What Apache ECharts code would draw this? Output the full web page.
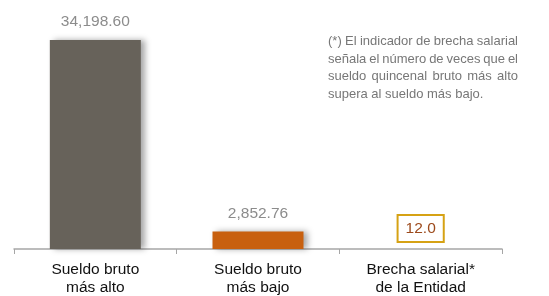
<!DOCTYPE html>
<html>
<head>
<meta charset="utf-8">
<script src="https://cdn.jsdelivr.net/npm/echarts@6/dist/echarts.min.js"></script>
<style>html,body{margin:0;padding:0;background:#fff}#c{width:549px;height:296px}</style>
</head>
<body>
<div id="c"></div>
<script>
var categories = ['Sueldo bruto\nmás alto', 'Sueldo bruto\nmás bajo', 'Brecha salarial*\nde la Entidad'];
var salaries = [34198.60, 2852.76];
var brecha = 12.0;
var noteLines = [
  '(*) El indicador de brecha salarial',
  'señala el número de veces que el',
  'sueldo quincenal bruto más alto',
  'supera al sueldo más bajo.'
];

var barColors = ['#67625a', '#c8600f'];
var font = '"Liberation Sans", Arial, sans-serif';

var data = salaries.map(function (v, i) {
  return {
    value: v,
    itemStyle: { color: barColors[i], shadowBlur: 6, shadowOffsetX: 4, shadowOffsetY: 0, shadowColor: 'rgba(0,0,0,0.35)' },
    label: {
      show: true, position: 'top', distance: 10, color: '#8c8c8c', fontSize: 15.5, fontFamily: font,
      formatter: function (p) { return p.value.toLocaleString('en-US', { minimumFractionDigits: 2, maximumFractionDigits: 2 }); }
    }
  };
});
data.push({
  value: brecha,
  itemStyle: { color: 'rgba(0,0,0,0)' },
  label: {
    show: true, position: 'top', distance: 8, color: '#9c4a1c', fontSize: 15.5, fontFamily: font,
    backgroundColor: '#fff', borderColor: '#d6a214', borderWidth: 2, padding: [5, 7, 4, 7],
    formatter: function (p) { return p.value.toFixed(1); }
  }
});

// justified note text (last line left-aligned)
var noteFont = '13px ' + font;
var noteLeft = 328, noteRight = 518, noteTop = 35, noteLH = 17.6;
var ctx = document.createElement('canvas').getContext('2d');
ctx.font = noteFont;
var graphics = [];
noteLines.forEach(function (line, i) {
  var top = noteTop + i * noteLH;
  if (i === noteLines.length - 1) {
    graphics.push({ type: 'text', left: noteLeft, top: top, style: { text: line, fill: '#777', font: noteFont } });
    return;
  }
  var words = line.split(' ');
  var total = 0;
  words.forEach(function (w) { total += ctx.measureText(w).width; });
  var gap = (noteRight - noteLeft - total) / (words.length - 1);
  var x = noteLeft;
  words.forEach(function (w) {
    graphics.push({ type: 'text', x: x, y: top, style: { text: w, fill: '#777', font: noteFont, textVerticalAlign: 'top' } });
    x += ctx.measureText(w).width + gap;
  });
});

var chart = echarts.init(document.getElementById('c'));
chart.setOption({
  animation: false,
  grid: { left: 14, right: 47, top: 40, bottom: 47, outerBoundsMode: 'none', containLabel: false },
  xAxis: {
    type: 'category', data: categories,
    axisLine: { lineStyle: { color: '#a6a6a6', width: 1.5 } },
    axisTick: { show: true, length: 5, lineStyle: { color: '#a6a6a6' } },
    axisLabel: { color: '#111', fontSize: 15.5, fontFamily: font, lineHeight: 18, margin: 12 }
  },
  yAxis: { type: 'value', min: 0, max: 34198.6, show: false, splitLine: { show: false } },
  series: [{ type: 'bar', barWidth: 91, data: data }],
  graphic: graphics
});
</script>
</body>
</html>
